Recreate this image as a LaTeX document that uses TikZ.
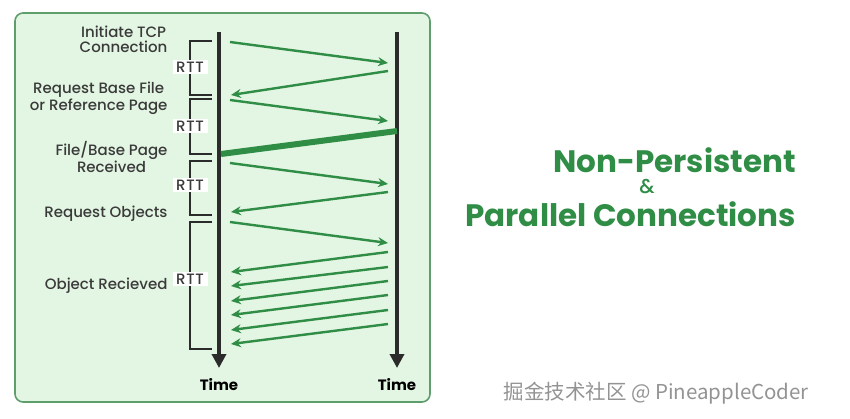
\documentclass[tikz,border=0pt]{standalone}
\usepackage{fontspec}
\setmainfont{Poppins}
\newfontfamily\medfont{Poppins Medium}
\newfontfamily\cjk{Noto Sans CJK SC}
\usepackage{xcolor}
\usetikzlibrary{arrows.meta}
\definecolor{ggreen}{HTML}{2F8D46}
\definecolor{boxfill}{HTML}{E3F6E3}
\definecolor{boxline}{HTML}{5E9E6C}
\definecolor{darkline}{HTML}{2B2B2B}
\definecolor{labelgray}{HTML}{3A3A3A}
\tikzset{
    msg/.style={draw=ggreen, line width=2.4pt, -{Stealth[length=10pt,width=9pt]}},
    timeline/.style={draw=darkline, line width=4.5pt, -{Triangle[length=14pt,width=14pt]}},
    bracket/.style={draw=darkline, line width=1.6pt},
    rtt/.style={fill=white, text=labelgray, inner sep=2pt, minimum width=35pt, font=\medfont\fontsize{15}{15}\selectfont\addfontfeatures{LetterSpace=4}},
    steplabel/.style={anchor=east, align=center, text=labelgray, font=\medfont\fontsize{15}{14.5}\selectfont},
    titletext/.style={anchor=east, ggreen, inner sep=0pt, font=\bfseries\fontsize{31}{32}\selectfont}
}
\begin{document}
\begin{tikzpicture}[x=1pt,y=-1pt]
\useasboundingbox (0,0) rectangle (850,418);
\def\xc{219}
\def\xs{397}
% frame
\draw[boxline, fill=boxfill, line width=1.6pt, rounded corners=8pt] (15,13) rectangle (430,402);
% time lines
\coordinate (cTop) at (\xc,32);
\coordinate (cEnd) at (\xc,368);
\coordinate (sTop) at (\xs,32);
\coordinate (sEnd) at (\xs,368);
\draw[timeline] (cTop) -- (cEnd);
\draw[timeline] (sTop) -- (sEnd);
\node (cTime) at (\xc,385) {\bfseries\fontsize{15}{16}\selectfont Time};
\node (sTime) at (\xs,385) {\bfseries\fontsize{15}{16}\selectfont Time};
% requests
\foreach \n/\ya/\yb in {1/42/63, 3/100/121, 5/163/184, 7/222/243}{
    \coordinate (q\n) at (230,\ya);
    \coordinate (a\n) at (388,\yb);
    \draw[msg] (q\n) -- (a\n);
}
% replies
\foreach \n/\ya/\yb in {2/71/95, 6/192/212, 8/252/272, 9/267/286, 10/281/301, 11/295/315, 12/310/330, 13/324/344}{
    \coordinate (a\n) at (388,\ya);
    \coordinate (q\n) at (231,\yb);
    \draw[msg] (a\n) -- (q\n);
}
% base page
\coordinate (a4) at (\xs,131);
\coordinate (q4) at (221,154);
\draw[ggreen, line width=6pt] (a4) -- (q4);
% RTT brackets
\foreach \n/\ya/\yb/\ym in {1/41/95/67, 2/99/154/126, 3/161/215/185, 4/222/349/279}{
    \coordinate (b\n) at (212,\ya);
    \coordinate (e\n) at (212,\yb);
    \draw[bracket] (b\n) -- ++(-22,0) |- (e\n);
    \node[rtt] (rtt\n) at (190,\ym) {RTT};
}
\node[steplabel] (init) at (171,39.5) {Initiate TCP\\Connection};
\node[steplabel] (reqbase) at (171,98.5) {Request Base File\\or Reference Page};
\node[steplabel] (filerec) at (171,157) {File/Base Page\\Received};
\node[steplabel] (reqobj) at (171,214) {Request Objects};
\node[steplabel] (objrec) at (171,286) {Object Recieved};
% title
\node[titletext] (title1) at (796,160) {Non-Persistent};
\node[ggreen, inner sep=0pt, font=\medfont\fontsize{20}{20}\selectfont] (amp) at (647,187) {\&};
\node[titletext] (title2) at (796,214) {Parallel Connections};
\node[anchor=west, text=gray!85, font=\fontsize{20.5}{22}\selectfont] (mark) at (500,393) {\cjk 掘金技术社区 @ PineappleCoder};
\end{tikzpicture}
\end{document}
